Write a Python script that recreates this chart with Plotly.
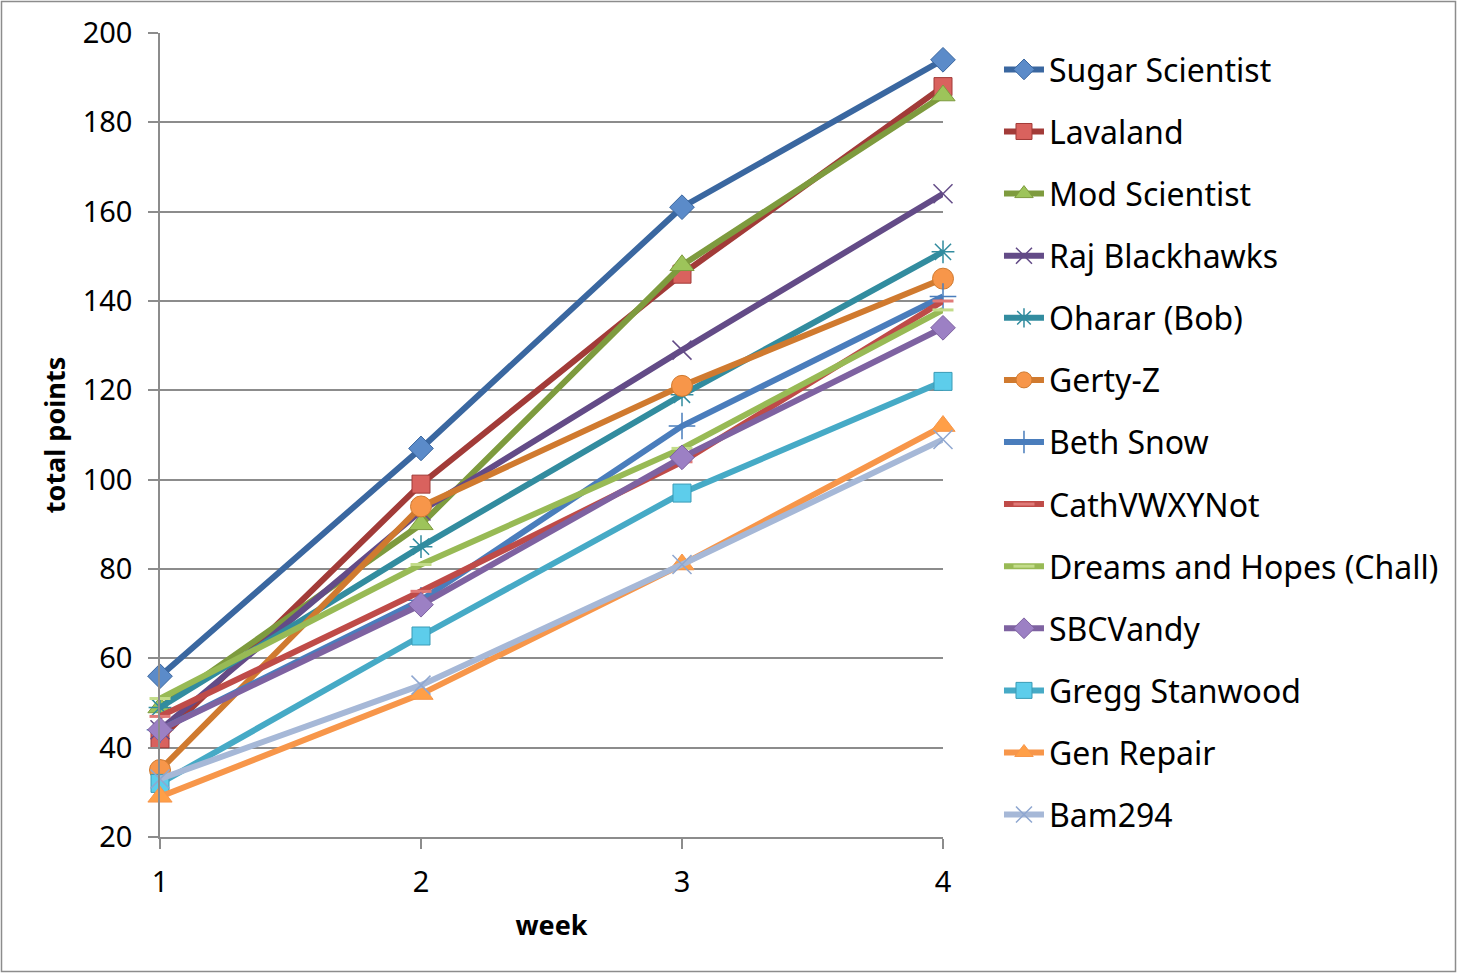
import plotly.graph_objects as go

weeks = [1, 2, 3, 4]
names = ["Sugar Scientist", "Lavaland", "Mod Scientist", "Raj Blackhawks", "Oharar (Bob)",
         "Gerty-Z", "Beth Snow", "CathVWXYNot", "Dreams and Hopes (Chall)", "SBCVandy",
         "Gregg Stanwood", "Gen Repair", "Bam294"]
sugar = [56, 107, 161, 194]
lavaland = [42, 99, 146, 188]
mod_sci = [49, 90, 148, 186]
raj = [44, 93, 129, 164]
oharar = [49, 85, 119, 151]
gerty = [35, 94, 121, 145]
beth = [44, 73, 112, 141]
cath = [47, 75, 104, 140]
dreams = [51, 81, 107, 138]
sbc = [44, 72, 105, 134]
gregg = [32, 65, 97, 122]
gen = [29, 52, 81, 112]
bam = [33, 54, 81, 109]
series = [sugar, lavaland, mod_sci, raj, oharar, gerty, beth, cath, dreams, sbc, gregg, gen, bam]

styles = [
    ("#3A67A0", "diamond", "#5B8BC9", "#3A67A0", 19, 1),
    ("#A23B38", "square", "#D9625E", "#A23B38", 18, 1),
    ("#7E9B3E", "triangle-up", "#9DC45A", "#7E9B3E", 21, 1),
    ("#634B87", "x-thin", "#634B87", "#634B87", 19, 1.5),
    ("#328C9F", "asterisk", "#328C9F", "#328C9F", 19, 1.5),
    ("#D07A2F", "circle", "#F7964A", "#D07A2F", 21, 1),
    ("#4A7DBC", "cross-thin", "#4A7DBC", "#4A7DBC", 19, 1.5),
    ("#BF4B48", "line-ew", "#E07A78", "#E07A78", 15, 3),
    ("#98BA55", "line-ew", "#C3DC8A", "#C3DC8A", 15, 3),
    ("#7E62A1", "diamond", "#9C80C4", "#7E62A1", 19, 1),
    ("#46AAC6", "square", "#5DCDEB", "#3A9BB6", 18, 1),
    ("#F7964A", "triangle-up", "#FF9F47", "#F7964A", 21, 1),
    ("#A6B8D7", "x-thin", "#A6B8D7", "#8FA7D0", 19, 1.5),
]

FONT = "Noto Sans"
fig = go.Figure()
for i, (nm, vals, st) in enumerate(zip(names, series, styles)):
    lc, sym, fill, mlc, size, mlw = st
    fig.add_trace(go.Scatter(
        x=weeks, y=vals, name=nm, mode="lines+markers",
        line=dict(color=lc, width=6),
        marker=dict(symbol=sym, color=fill, size=size, line=dict(color=mlc, width=mlw)),
        cliponaxis=False, legendgroup=f"g{i}",
    ))

fig.update_layout(
    width=1457, height=974,
    margin=dict(l=160, r=514, t=33, b=137),
    plot_bgcolor="white", paper_bgcolor="white",
    font=dict(family=FONT, size=28, color="black"),
    showlegend=True,
    legend=dict(x=1.0715, xanchor="left", y=0.9887, yanchor="top",
                font=dict(size=32), tracegroupgap=17.5, itemwidth=40,
                maxheight=974, bgcolor="rgba(0,0,0,0)"),
    xaxis=dict(range=[1, 4], tickvals=weeks, ticktext=[str(w) for w in weeks],
               showgrid=False, zeroline=False, showline=True, linecolor="#8C8C8C", linewidth=1.5,
               ticks="outside", ticklen=10, tickcolor="#8C8C8C", tickwidth=1.5,
               tickfont=dict(size=29), ticklabelstandoff=8,
               title=dict(text="<b>week</b>", font=dict(size=27), standoff=18)),
    yaxis=dict(range=[20, 200], dtick=20, showgrid=True, gridcolor="#8C8C8C", gridwidth=1.5,
               zeroline=False, showline=True, linecolor="#8C8C8C", linewidth=1.5,
               ticks="outside", ticklen=10, tickcolor="#8C8C8C", tickwidth=1.5,
               tickfont=dict(size=29), ticklabelstandoff=10,
               title=dict(text="<b>total points</b>", font=dict(size=27), standoff=9)),
    shapes=[dict(type="rect", xref="paper", yref="paper",
                 x0=(1.5 - 160) / 783, x1=(1455.5 - 160) / 783,
                 y0=(837 - 971.5) / 804, y1=(837 - 1.5) / 804,
                 line=dict(color="#8C8C8C", width=1.5), layer="below")],
)

fig.write_html("out.html", config={"displayModeBar": False},
               post_script="document.body.style.margin='0';document.body.style.overflow='hidden';")
